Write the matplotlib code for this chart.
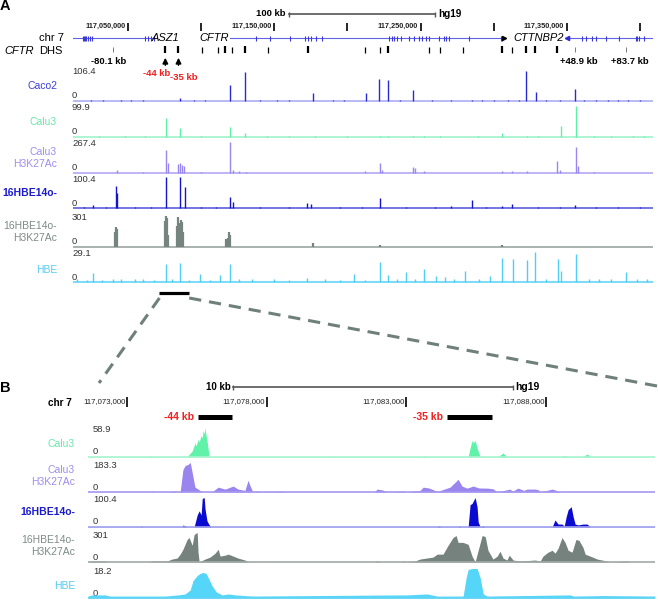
import matplotlib
matplotlib.use("Agg")
import matplotlib.pyplot as plt

plt.rcParams['font.family'] = ['Liberation Sans', 'DejaVu Sans']

W, H = 658, 600

# positions are kb from chr7:117,000,000
a_range = (12.5, 408.9)
b_range = (71.6, 91.9)

a_ticks = [50, 100, 150, 200, 250, 300, 350, 400]
a_tick_labels = ['117,050,000', '', '117,150,000', '', '117,250,000', '', '117,350,000', '']
b_ticks = [73, 78, 83, 88]
b_tick_labels = ['117,073,000', '117,078,000', '117,083,000', '117,088,000']

gene_names = ['ASZ1', 'CFTR', 'CTTNBP2']
gene_start = [12.5, 119.6, 350.1]
gene_end = [68.4, 307.1, 408.9]
gene_label_kb = [75.9, 109.3, 331.0]
gene_exons = [
    [19.3, 20.0, 20.7, 21.3, 22.7, 24.1, 25.5, 61.6, 63.7, 65.7, 67.7],
    [137.3, 146.9, 160.5, 171.4, 172.8, 175.5, 178.9, 183.0, 228.7, 230.7, 232.1,
     234.2, 236.9, 242.3, 245.7, 249.2, 251.2, 253.9, 256.0, 262.8, 266.2, 267.6,
     269.6, 283.3, 305.1, 305.8],
    [360.3, 363.0, 367.1, 369.9, 376.7, 385.6, 397.1, 397.8, 399.2, 402.6],
]

dhs_kb = [100.5, 111.4, 120.9, 145.5, 212.3, 222.6, 256.0, 263.5, 279.2, 312.6]
dhs_major_kb = [116.2, 129.8, 172.8, 228.0, 305.8, 322.1, 328.3, 343.3]
dhs_distal_kb = [39.5, 355.9, 390.7]
dhs_distal_labels = ['-80.1 kb', '+48.9 kb', '+83.7 kb']
dhs_focus_kb = [75.6, 84.6]
dhs_focus_labels = ['-44 kb', '-35 kb']
focus_start = [75.54, 84.45]
focus_end = [76.76, 86.06]

# ---- panel A signal peaks ----
caco2_kb = [25, 33, 45, 52, 60, 85.5, 95, 103, 119.6, 129.8, 140, 152, 160, 176.2, 190, 198,
            213.0, 221.9, 228.0, 236, 245.1, 258, 271.0, 285.3, 292, 300, 310, 317, 322.1,
            328.9, 336, 345, 355.5, 362, 370, 378, 385, 392, 400]
caco2_val = [3, 2, 3, 2, 3, 10, 3, 2, 55, 100, 3, 3, 2, 27, 3, 2,
             27, 75, 72, 3, 38, 3, 5, 5, 3, 2, 3, 3, 103,
             30, 2, 3, 40, 3, 2, 3, 2, 3, 2]

calu3_kb = [30, 48, 62, 75.9, 85.5, 100, 119.6, 129.8, 144.8, 160, 178, 200, 222.6, 228.0,
            245.1, 252.6, 263.5, 289, 305.8, 322.8, 330, 346.0, 356.2, 368.5, 380, 395, 403]
calu3_val = [2, 2, 2, 61, 29, 2, 32, 13, 4, 2, 2, 2, 3, 3,
             3, 4, 2, 2, 13, 4, 2, 35, 99, 3, 2, 2, 2]

calu3ac_kb = [42.5, 60, 75.9, 77.3, 84.1, 85.5, 86.8, 88.2, 100, 119.6, 121.6, 126, 131,
              212.3, 222.6, 224.0, 245.1, 246.5, 252.6, 305.8, 312.6, 322.8, 343.3, 345.3,
              356.2, 357.5, 368.5]
calu3ac_val = [25, 6, 198, 86, 80, 86, 70, 60, 6, 267, 30, 15, 12,
               20, 86, 30, 52, 40, 18, 18, 20, 15, 103, 30,
               224, 60, 12]

hbe16_kb = [20, 26.1, 35, 41.8, 42.5, 55, 66, 75.9, 85.5, 88.9, 100, 110, 119.6, 121.6, 140,
            160, 172.1, 175.5, 195, 210, 222.6, 240, 260, 271.0, 285.3, 295, 305.8, 312.6,
            330, 345, 355.5, 370, 385, 400]
hbe16_val = [3, 10, 3, 71, 48, 3, 4, 100, 100, 68, 4, 3, 36, 20, 3,
             3, 16, 12, 3, 3, 32, 3, 3, 8, 26, 3, 7, 12,
             3, 3, 10, 3, 3, 3]

hbeac_kb = [41.1, 41.8, 42.5, 75.2, 75.9, 76.6, 77.3, 83.4, 84.1, 84.8, 85.5, 86.1, 86.8,
            87.5, 116.8, 117.5, 118.2, 118.9, 119.6, 176.2, 222.6, 305.8]
hbeac_val = [150, 194, 170, 250, 301, 280, 120, 200, 290, 230, 200, 262, 240,
             150, 78, 60, 90, 145, 120, 39, 19, 15]

hbe_kb = [15, 22, 26.1, 32, 40, 45, 55, 60, 68, 75.9, 80, 85.5, 92, 99.1, 106, 112.8, 119.6,
          126, 135, 150, 160, 172.1, 185, 195, 204.8, 212, 222.6, 228.0, 234, 240.3, 246,
          252.6, 260.7, 266.9, 273, 280.5, 290, 297.6, 305.8, 313.3, 322.8, 328.3, 336,
          343.9, 346.0, 356.2, 365, 372, 380, 390.3, 398, 405]
hbe_val = [2.5, 2, 8.5, 2, 3, 3, 2.5, 3, 2, 17, 3, 18, 2, 7.5, 2, 6.5, 17,
           3, 2.5, 3, 2, 4, 2.5, 2, 7.5, 2, 19, 7, 3, 9.4, 3,
           12, 5.6, 5, 3, 10, 3, 5.6, 22.5, 21.6, 20.6, 28, 3,
           21.6, 10, 26, 3, 2.5, 3, 9.4, 3, 2.5]

# ---- panel B signal profiles ----
calu3_b_kb = [71.60, 73.75, 73.80, 73.90, 75.15, 75.33, 75.43, 75.47, 75.54, 75.58, 75.65,
              75.69, 75.72, 75.76, 75.79, 75.83, 75.86, 75.94, 80.30, 80.34, 80.40, 83.60,
              83.65, 83.70, 85.21, 85.28, 85.35, 85.39, 85.46, 85.53, 85.64, 86.28, 86.46,
              86.60, 88.50, 88.60, 88.70, 88.80, 89.32, 89.47, 89.61, 91.90]
calu3_b_val = [0.5, 0.5, 2, 0.5, 0.5, 12, 28, 22, 35, 30, 43,
               38, 53, 46, 58.9, 42, 33, 0.5, 0.5, 2.5, 0.5, 0.5,
               2, 0.5, 0.5, 18, 33, 28, 33, 18, 0.5, 0.5, 8,
               0.5, 0.5, 2, 2, 0.5, 0.5, 6, 0.5, 0.5]

calu3ac_b_kb = [71.60, 73.85, 73.90, 73.95, 74.50, 74.60, 74.70, 74.80, 74.90, 75.00, 75.08,
                75.18, 75.26, 75.33, 75.43, 75.54, 75.69, 76.04, 76.26, 76.51, 76.80, 76.97,
                77.22, 77.33, 77.40, 77.50, 77.69, 77.80, 78.55, 78.65, 81.85, 81.95, 82.16,
                82.30, 82.88, 83.00, 83.49, 83.60, 83.80, 83.95, 84.10, 84.56, 84.74, 84.85,
                84.99, 85.17, 85.39, 85.60, 85.90, 86.10, 86.25, 86.71, 86.80, 87.00, 87.20,
                87.32, 87.60, 87.71, 87.80, 88.22, 88.40, 88.50, 91.90]
calu3ac_b_val = [0.5, 0.5, 5, 0.5, 0.5, 5, 5, 0.5, 2, 140, 165,
                 171, 183.3, 122, 30, 18, 0.5, 0.5, 30, 18, 37, 18,
                 10, 73, 40, 0.5, 6, 0.5, 5, 0.5, 0.5, 18, 12,
                 0.5, 6, 0.5, 10, 30, 25, 15, 3, 30, 60, 79,
                 37, 24, 37, 25, 24, 20, 0.5, 18, 5, 24, 10,
                 18, 18, 15, 0.5, 18, 8, 0.5, 0.5]

hbe16_b_kb = [71.60, 73.47, 73.50, 73.55, 74.97, 75.00, 75.08, 75.15, 75.40, 75.51, 75.58,
              75.65, 75.69, 75.76, 75.79, 75.86, 75.94, 76.01, 84.10, 84.15, 84.25, 84.85,
              84.90, 84.95, 85.21, 85.28, 85.35, 85.46, 85.53, 85.57, 85.64, 85.75, 85.80,
              88.22, 88.32, 88.43, 88.57, 88.65, 88.72, 88.79, 88.90, 88.97, 89.04, 89.15,
              89.32, 89.47, 89.58, 91.90]
hbe16_b_val = [0.5, 0.5, 3.5, 0.5, 0.5, 7, 3.5, 0.5, 0.5, 41, 55,
               41, 97, 100.4, 62, 21, 7, 0.5, 0.5, 3.5, 0.5, 0.5,
               3.5, 0.5, 0.5, 76, 80, 100.4, 69, 17, 0.5, 3.5, 0.5,
               0.5, 24, 10, 10, 3, 35, 59, 69, 35, 10, 7,
               10, 10, 0.5, 0.5]

hbeac_b_kb = [71.60, 71.75, 72.21, 72.30, 73.80, 73.90, 74.43, 74.61, 74.79, 74.90, 75.00,
              75.15, 75.22, 75.33, 75.40, 75.47, 75.51, 75.54, 75.58, 75.79, 75.97, 76.15,
              76.26, 76.33, 76.51, 76.62, 76.80, 76.97, 77.22, 77.33, 81.85, 81.95, 82.05,
              82.80, 82.88, 82.96, 83.30, 83.49, 83.95, 84.10, 84.31, 84.49, 84.67, 84.78,
              84.85, 85.03, 85.21, 85.35, 85.46, 85.57, 85.71, 85.82, 85.92, 86.10, 86.25,
              86.35, 86.46, 86.60, 86.68, 86.82, 87.07, 87.61, 87.79, 87.89, 88.07, 88.22,
              88.32, 88.43, 88.57, 88.68, 88.79, 88.93, 89.07, 89.18, 89.32, 89.40, 89.58,
              89.83, 90.18, 90.29, 90.90, 91.00, 91.90]
hbeac_b_val = [1, 10, 10, 1, 1, 10, 10, 30, 40, 80, 130,
               230, 250, 170, 280, 295, 301, 100, 1, 30, 50, 90,
               130, 60, 70, 80, 60, 40, 20, 1, 1, 10, 1,
               1, 10, 1, 10, 30, 50, 80, 80, 170, 250, 270,
               200, 200, 180, 60, 1, 120, 270, 260, 120, 30, 60,
               110, 40, 20, 70, 20, 10, 20, 10, 60, 100, 120,
               90, 140, 250, 200, 120, 100, 230, 220, 150, 80, 60,
               30, 10, 1, 10, 1, 1]

hbe_b_kb = [71.60, 71.75, 72.21, 72.40, 74.36, 74.83, 75.08, 75.26, 75.36, 75.51, 75.61,
            75.72, 75.83, 75.94, 76.04, 76.19, 76.40, 76.62, 76.87, 77.50, 82.77, 83.02,
            83.74, 84.10, 85.03, 85.14, 85.21, 85.35, 85.53, 85.64, 85.75, 85.89, 88.86,
            89.00, 90.04, 91.90]
hbe_b_val = [1.2, 1.9, 1.9, 1.2, 1.2, 1.9, 2.5, 5, 10.7, 13.9, 15.1,
             15.8, 15.1, 11.3, 7.6, 3.8, 1.9, 2.5, 1.9, 1.2, 1.9, 1.9,
             2.5, 1.2, 1.2, 12.6, 17.6, 18.2, 18.2, 12.6, 2.5, 1.2, 1.9,
             1.2, 1.5, 1.2]


fig = plt.figure(figsize=(W / 100, H / 100), dpi=100)


def px_axes(x0, y0, x1, y1):
    ax = fig.add_axes([x0 / W, 1 - y1 / H, (x1 - x0) / W, (y1 - y0) / H])
    ax.set_axis_off()
    return ax


# ── overlay in pixel units for labels and connectors ─────────────────────────
ov = px_axes(0, 0, W, H)
ov.set_xlim(0, W)
ov.set_ylim(H, 0)

A_LEFT, A_RIGHT = 73, 653
B_LEFT, B_RIGHT = 88, 655


def a_px(kb):
    return A_LEFT + (kb - a_range[0]) / (a_range[1] - a_range[0]) * (A_RIGHT - A_LEFT)


ov.text(0, 6, 'A', fontsize=10.5, fontweight='bold', va='center')
ov.text(0, 388, 'B', fontsize=10.5, fontweight='bold', va='center')
ov.text(64, 38, 'chr 7', fontsize=8, ha='right', va='center')
ov.text(34, 51, 'CFTR', fontsize=8, style='italic', ha='right', va='center')
ov.text(62, 51, 'DHS', fontsize=8, ha='right', va='center')
ov.text(72, 403, 'chr 7', fontsize=7.2, fontweight='bold', ha='right', va='center')

dash = dict(color='#6f807b', lw=2.2, linestyle=(0, (4, 2.6)))
ov.plot([a_px(b_range[0]), 99], [298, 383], **dash)
ov.plot([a_px(b_range[1]), 657], [298, 386], **dash)

# ── panel A header: scale, coordinates, genes, DHS ───────────────────────────
hA = px_axes(A_LEFT, 0, A_RIGHT, 300)
hA.set_xlim(*a_range)
hA.set_ylim(300, 0)

hA.plot([160, 260], [14, 14], color='#555555', lw=1.2)
hA.vlines([160, 260], 11.5, 16.5, color='#555555', lw=1)
hA.text(158, 14, '100 kb', fontsize=6.8, fontweight='bold', ha='right', va='center')
hA.text(262, 14, 'hg19', fontsize=7.2, fontweight='bold', ha='left', va='center')

hA.vlines(a_ticks, 23, 31, color='k', lw=1.2)
for t, lab in zip(a_ticks, a_tick_labels):
    if lab:
        hA.text(t - 1.8, 26.5, lab, fontsize=5.3, fontweight='bold', ha='right', va='center',
                color='#222222')

for name, s, e, lx, ex in zip(gene_names, gene_start, gene_end, gene_label_kb, gene_exons):
    hA.plot([s, e], [38, 38], color='#6262e4', lw=0.8)
    hA.vlines(ex, 35.5, 40.5, color='#3a3ad6', lw=0.8)
    hA.text(lx, 38, name, fontsize=8, style='italic', ha='center', va='center')
hA.plot([gene_end[1]], [38], marker='>', color='k', ms=3)
hA.plot([gene_start[2]], [38], marker='<', color='#2a2ad0', ms=3)

hA.vlines(dhs_kb, 46.5, 52.5, color='k', lw=0.9)
hA.vlines(dhs_major_kb + dhs_focus_kb, 46, 53, color='k', lw=1.6)
hA.vlines(dhs_distal_kb, 47, 52, color='#666666', lw=0.6)
for kb, lab in zip(dhs_distal_kb, dhs_distal_labels):
    dx = -2.5 if lab.startswith('-') else 2.5
    hA.annotate(lab, (kb, 61), xytext=(dx, 0), textcoords='offset points',
                fontsize=6.8, fontweight='bold', ha='center', va='center')
for kb, lab, dx, y in zip(dhs_focus_kb, dhs_focus_labels, [-6, 3.5], [74, 77]):
    hA.annotate('', xy=(kb, 55), xytext=(kb, 68),
                arrowprops=dict(arrowstyle='-|>', color='k', lw=1.1, mutation_scale=8))
    hA.annotate(lab, (kb, y), xytext=(dx, 0), textcoords='offset points',
                fontsize=6.8, fontweight='bold', color='#ee2020', ha='center', va='center')

hA.plot(b_range, [293, 293], color='k', lw=2.3, solid_capstyle='butt')

# ── panel A tracks ───────────────────────────────────────────────────────────
tracks_a = [
    ('Caco2', caco2_kb, caco2_val, '106.4', 106.4, '#2a2ad4', '#b4b4f2', '#3d3de0', 'normal', 101),
    ('Calu3', calu3_kb, calu3_val, '99.9', 99.9, '#5ef0a4', '#a8f5cf', '#66e8a8', 'normal', 137),
    ('Calu3\nH3K27Ac', calu3ac_kb, calu3ac_val, '267.4', 267.4, '#9a86ef', '#bcaef5', '#a08cf0', 'normal', 173),
    ('16HBE14o-', hbe16_kb, hbe16_val, '100.4', 100.4, '#1414cc', '#6a6ae0', '#1a1acc', 'bold', 208),
    ('16HBE14o-\nH3K27Ac', hbeac_kb, hbeac_val, '301', 301, '#75847e', '#a3ada9', '#7c8b86', 'normal', 247),
    ('HBE', hbe_kb, hbe_val, '29.1', 29.1, '#4fcff5', '#7fdcf7', '#55ccf0', 'normal', 282),
]
for name, kb, val, vlab, vmax, col, base, lcol, wt, b in tracks_a:
    ax = px_axes(A_LEFT, b - 33, A_RIGHT, b + 1.5)
    s = vmax / 31
    ax.set_xlim(*a_range)
    ax.set_ylim(-1.5 * s, 33 * s)
    ax.axhline(0, color=base, lw=1.3 if name != 'HBE' else 2.2)
    ax.vlines(kb, 0, val, colors=col, lw=1.6 if 'H3K27Ac' in name and '16' in name else 1.0)
    ly = b - 12 if name == 'HBE' else b - 15
    ov.text(57, ly, name, fontsize=7.5, color=lcol, fontweight=wt, ha='right', va='center',
            linespacing=1.35)
    ov.text(72, b - 29, vlab, fontsize=6.8, color='#333333', va='center')
    ov.text(72, b - 5, '0', fontsize=6.8, color='#333333', va='center')

# ── panel B header ───────────────────────────────────────────────────────────
hB = px_axes(B_LEFT, 370, B_RIGHT, 425)
hB.set_xlim(*b_range)
hB.set_ylim(425, 370)
hB.plot([76.8, 86.8], [387, 387], color='#555555', lw=1.2)
hB.vlines([76.8, 86.8], 384.5, 389.5, color='#555555', lw=1)
hB.text(76.72, 387, '10 kb', fontsize=7, fontweight='bold', ha='right', va='center')
hB.text(86.88, 387, 'hg19', fontsize=7.5, fontweight='bold', ha='left', va='center')
hB.vlines(b_ticks, 397, 407, color='k', lw=1.2)
for t, lab in zip(b_ticks, b_tick_labels):
    hB.text(t - 0.06, 402, lab, fontsize=5.6, ha='right', va='center', color='#222222')
hB.hlines([416.5] * len(focus_start), focus_start, focus_end, color='k', lw=3.6)
for s0, lab in zip(focus_start, dhs_focus_labels):
    hB.text(s0 - 0.15, 416.5, lab, fontsize=7.5, fontweight='bold', color='#ee2020',
            ha='right', va='center')

# ── panel B tracks ───────────────────────────────────────────────────────────
tracks_b = [
    ('Calu3', calu3_b_kb, calu3_b_val, '58.9', 58.9, '#5ff2a8', '#a6f5cf', '#66e8a8', 'normal', 457, 444),
    ('Calu3\nH3K27Ac', calu3ac_b_kb, calu3ac_b_val, '183.3', 183.3, '#9a85ee', '#a898f0', '#a08cf0', 'normal', 492, 476),
    ('16HBE14o-', hbe16_b_kb, hbe16_b_val, '100.4', 100.4, '#0a0ad0', '#a0a0ee', '#1a1acc', 'bold', 527, 512),
    ('16HBE14o-\nH3K27Ac', hbeac_b_kb, hbeac_b_val, '301', 301, '#75827d', '#a2aaa7', '#7c8b86', 'normal', 562, 546),
    ('HBE', hbe_b_kb, hbe_b_val, '18.2', 18.2, '#55d5f7', '#5fd3f5', '#55ccf0', 'normal', 598, 586),
]
for name, kb, val, vlab, vmax, col, base, lcol, wt, b, ly in tracks_b:
    ax = px_axes(B_LEFT, b - 33, B_RIGHT, b + 1.5)
    s = vmax / 29.5
    ax.set_xlim(*b_range)
    ax.set_ylim(-1.5 * s, 33 * s)
    ax.axhline(0, color=base, lw=1.2)
    ax.fill_between(kb, 0, val, color=col, lw=0)
    ov.text(75, ly, name, fontsize=7.5, color=lcol, fontweight=wt, ha='right', va='center',
            linespacing=1.35)
    ov.text(93, b - 27, vlab, fontsize=6.8, color='#333333', va='center')
    ov.text(93, b - 5, '0', fontsize=6.8, color='#333333', va='center')

fig.savefig('out.png', dpi=100)
